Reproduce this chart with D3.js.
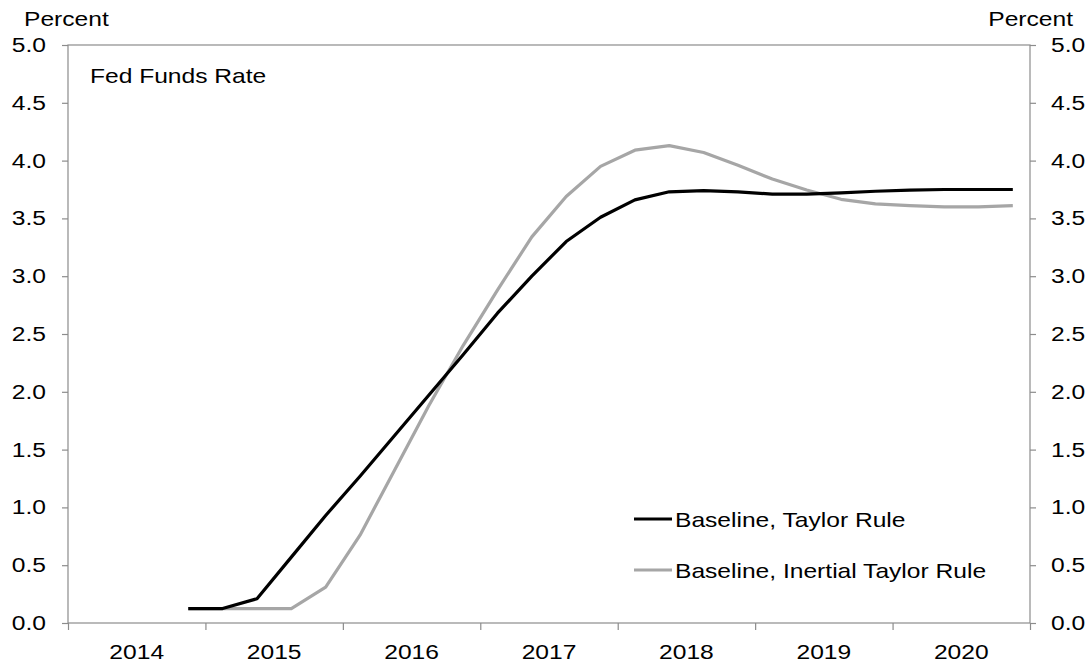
<!DOCTYPE html>
<html>
<head>
<meta charset="utf-8">
<script src="https://cdn.jsdelivr.net/npm/d3@7"></script>
<style>
  body { margin: 0; background: #fff; }
  svg text { font-family: "Liberation Sans", Arial, sans-serif; fill: #000; }
</style>
</head>
<body>
<div id="chart"></div>
<script>
// quarterly data, 2014Q4 .. 2020Q4
let quarters = ["2014Q4",
    "2015Q1", "2015Q2", "2015Q3", "2015Q4",
    "2016Q1", "2016Q2", "2016Q3", "2016Q4",
    "2017Q1", "2017Q2", "2017Q3", "2017Q4",
    "2018Q1", "2018Q2", "2018Q3", "2018Q4",
    "2019Q1", "2019Q2", "2019Q3", "2019Q4",
    "2020Q1", "2020Q2", "2020Q3", "2020Q4"];
let taylor = [0.125,
    0.125, 0.21, 0.57, 0.93,
    1.27, 1.62, 1.97, 2.32,
    2.68, 3.00, 3.30, 3.51,
    3.66, 3.73, 3.74, 3.73,
    3.71, 3.71, 3.72, 3.735,
    3.745, 3.75, 3.75, 3.75];
let inertial = [0.125,
    0.125, 0.125, 0.125, 0.31,
    0.76, 1.32, 1.88, 2.40,
    2.88, 3.34, 3.69, 3.95,
    4.09, 4.13, 4.07, 3.96,
    3.84, 3.745, 3.665, 3.625,
    3.61, 3.60, 3.60, 3.61];
let years = [2014, 2015, 2016, 2017, 2018, 2019, 2020];
let yTicks = [0, 0.5, 1, 1.5, 2, 2.5, 3, 3.5, 4, 4.5, 5];

let width = 1087, height = 667;
let margin = {top: 45, right: 57, bottom: 44, left: 68};
let w = width - margin.left - margin.right;
let h = height - margin.top - margin.bottom;

// the original text is a bit wider than Arial, stretch it horizontally
let sx = 1.2;
let fontSize = "20.5px";

let svg = d3.select("#chart").append("svg")
    .attr("width", width)
    .attr("height", height);
let g = svg.append("g")
    .attr("transform", "translate(" + margin.left + "," + margin.top + ")");

function addText(parent, px, py, str, anchor) {
    return parent.append("text")
        .attr("transform", "translate(" + px + "," + py + ") scale(" + sx + ",1)")
        .attr("text-anchor", anchor || "start")
        .style("font-size", fontSize)
        .text(str);
}

// quarter -> fractional year at the middle of the quarter
let qPos = (s) => +s.slice(0, 4) + (+s.slice(5) - 0.5) / 4;

let x = d3.scaleLinear()
    .domain([years[0], years[years.length - 1] + 1])
    .range([0, w]);
let y = d3.scaleLinear()
    .domain([0, 5])
    .range([h, 0]);

let axisColor = "#8c8c8c";

// plot box
g.append("rect")
    .attr("width", w)
    .attr("height", h)
    .attr("fill", "none")
    .attr("stroke", axisColor)
    .attr("stroke-width", 1.2);

let yl = g.append("g")
    .call(d3.axisLeft(y).tickValues(yTicks).tickFormat(d3.format(".1f")).tickSize(6));
let yr = g.append("g")
    .attr("transform", "translate(" + w + ",0)")
    .call(d3.axisRight(y).tickValues(yTicks).tickFormat(d3.format(".1f")).tickSize(6));
let xb = g.append("g")
    .attr("transform", "translate(0," + h + ")")
    .call(d3.axisBottom(x).tickValues(years.concat([years[years.length - 1] + 1]))
        .tickFormat("").tickSize(7));

[yl, yr, xb].forEach((a) => {
    a.select(".domain").remove();
    a.selectAll("line").attr("stroke", axisColor).attr("stroke-width", 1.2);
    a.selectAll("text").style("font-size", fontSize).attr("fill", "#000")
        .attr("transform", "scale(" + sx + ",1)");
});
yl.selectAll("text").attr("x", -22 / sx);
yr.selectAll("text").attr("x", 21 / sx);

years.forEach((d) => {
    addText(g, x(d + 0.5), h + 36, d, "middle");
});

// lines
let line = (vals) => d3.line()
    .x((d, i) => x(qPos(quarters[i])))
    .y((d) => y(d))(vals);

g.append("path")
    .attr("d", line(inertial))
    .attr("fill", "none")
    .attr("stroke", "#a6a6a6")
    .attr("stroke-width", 3.2)
    .attr("stroke-linejoin", "round");
g.append("path")
    .attr("d", line(taylor))
    .attr("fill", "none")
    .attr("stroke", "#000")
    .attr("stroke-width", 3.2)
    .attr("stroke-linejoin", "round");

// labels
addText(svg, 24, 26, "Percent");
addText(svg, 1073, 26, "Percent", "end");
addText(g, 22, 38, "Fed Funds Rate");

// legend
let legend = [
    {name: "Baseline, Taylor Rule", color: "#000", y: 519},
    {name: "Baseline, Inertial Taylor Rule", color: "#a6a6a6", y: 570}
];
let lg = svg.append("g");
legend.forEach((d) => {
    lg.append("line")
        .attr("x1", 634).attr("x2", 672)
        .attr("y1", d.y).attr("y2", d.y)
        .attr("stroke", d.color)
        .attr("stroke-width", 3.2);
    addText(lg, 675, d.y + 8, d.name);
});
</script>
</body>
</html>
